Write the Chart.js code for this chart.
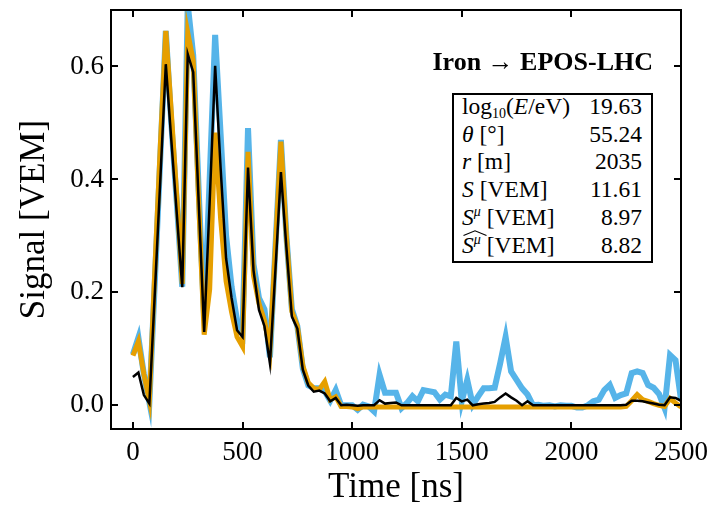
<!DOCTYPE html>
<html>
<head>
<meta charset="utf-8">
<script src="https://cdn.jsdelivr.net/npm/chart.js@4.4.1/dist/chart.umd.min.js"></script>
<style>
  html, body { margin:0; padding:0; background:#fff; }
  #wrap { position:relative; width:725px; height:505px; }
  #c { position:absolute; left:0; top:0; }
  .serif { font-family:"Liberation Serif","DejaVu Serif",serif; color:#000; }
  #title { position:absolute; left:400px; width:253px; top:47px; text-align:right; font-weight:bold; font-size:26px; line-height:30px; white-space:nowrap; }
  #box { position:absolute; left:452px; top:93px; width:197px; height:166px; border:2px solid #000; background:#fff; }
  #box table { border-collapse:collapse; margin-left:8px; margin-top:-2px; font-size:23.5px; width:180px; }
  #box td { padding:0; height:27.7px; line-height:27.7px; white-space:nowrap; }
  #box td.v { text-align:right; }
  sub, sup { font-size:14px; line-height:0; }
  sup { vertical-align:9px; }
  sub { vertical-align:-4px; }
  .hat { position:relative; display:inline-block; line-height:27.7px; }
  .hat svg { position:absolute; left:1px; top:-2px; }
</style>
</head>
<body>
<div id="wrap">
  <canvas id="c" width="725" height="505"></canvas>
  <div id="title" class="serif">Iron → EPOS-LHC</div>
  <div id="box" class="serif">
    <table>
      <tr><td>log<sub>10</sub>(<i>E</i>/eV)</td><td class="v">19.63</td></tr>
      <tr><td><i>θ</i> [°]</td><td class="v">55.24</td></tr>
      <tr><td><i>r</i> [m]</td><td class="v">2035</td></tr>
      <tr><td><i>S</i> [VEM]</td><td class="v">11.61</td></tr>
      <tr><td><i>S</i><sup><i>μ</i></sup> [VEM]</td><td class="v">8.97</td></tr>
      <tr><td><span class="hat"><i>S</i><sup><i>μ</i></sup><svg width="24" height="6" viewBox="0 0 24 6"><polyline points="0.5,5.5 12,0.8 23.5,5.5" fill="none" stroke="#000" stroke-width="1.1"/></svg></span> [VEM]</td><td class="v">8.82</td></tr>
    </table>
  </div>
</div>
<script>
// Time bins [ns]
const timeNs = [];
for (let i = 0; i <= 100; i++) timeNs.push(i * 25);

// Blue series (thick, light blue)
const blueSignal = [
  0.090, 0.120, 0.055, 0.005, 0.220, 0.440, 0.663, 0.500, 0.360, 0.210,
  0.710, 0.620, 0.380, 0.154, 0.400, 0.656, 0.480, 0.300, 0.210, 0.150,
  0.130, 0.491, 0.250, 0.190, 0.170, 0.085, 0.280, 0.470, 0.300, 0.170,
  0.140, 0.065, 0.035, 0.030, 0.030, 0.025, 0.008, 0.027, 0.000, 0.000,
  0.000, -0.008, 0.001, -0.002, -0.011, 0.054, 0.022, 0.022, 0.022, -0.005,
  0.004, 0.016, 0.007, 0.027, 0.025, 0.023, 0.010, 0.019, 0.016, 0.113,
  0.007, 0.045, 0.001, 0.016, 0.030, 0.030, 0.031, 0.074, 0.121, 0.060,
  0.045, 0.030, 0.019, 0.000, 0.001, -0.001, 0.000, -0.002, 0.000, -0.001,
  -0.001, -0.004, -0.004, 0.000, 0.007, 0.010, 0.027, 0.036, 0.013, 0.018,
  0.021, 0.057, 0.060, 0.057, 0.036, 0.031, 0.020, -0.005, 0.089, 0.080,
  0.010
];

// Orange series (thick)
const orangeSignal = [
  0.088, 0.113, 0.055, 0.008, 0.240, 0.460, 0.663, 0.520, 0.370, 0.215,
  0.660, 0.610, 0.360, 0.125, 0.205, 0.483, 0.330, 0.220, 0.165, 0.121,
  0.104, 0.449, 0.230, 0.180, 0.150, 0.098, 0.280, 0.467, 0.300, 0.166,
  0.140, 0.070, 0.040, 0.030, 0.028, 0.042, 0.010, 0.015, -0.002, -0.002,
  -0.003, -0.006, -0.003, -0.003, -0.003, -0.003, -0.003, -0.003, -0.003, -0.003,
  -0.003, -0.003, -0.003, -0.003, -0.003, -0.003, -0.003, -0.003, -0.003, -0.003,
  -0.003, -0.003, -0.003, -0.003, -0.003, -0.003, -0.003, -0.003, -0.003, -0.003,
  -0.003, -0.003, -0.003, -0.003, -0.003, -0.003, -0.003, -0.003, -0.003, -0.003,
  -0.003, -0.003, -0.003, -0.003, -0.003, -0.003, -0.003, -0.003, -0.003, -0.003,
  -0.002, 0.008, 0.019, 0.010, 0.007, 0.003, 0.000, -0.002, 0.012, 0.004,
  -0.003
];

// Black series (thin)
const blackSignal = [
  0.050, 0.058, 0.018, 0.003, 0.200, 0.400, 0.604, 0.470, 0.340, 0.209,
  0.622, 0.590, 0.360, 0.130, 0.360, 0.601, 0.420, 0.260, 0.190, 0.133,
  0.121, 0.421, 0.239, 0.169, 0.140, 0.074, 0.240, 0.413, 0.280, 0.157,
  0.136, 0.063, 0.035, 0.024, 0.026, 0.021, 0.007, 0.013, 0.000, 0.001,
  0.000, -0.001, 0.000, 0.000, 0.000, 0.009, 0.003, 0.004, 0.005, 0.000,
  0.000, 0.000, 0.000, 0.000, 0.000, 0.000, 0.000, 0.000, 0.000, 0.013,
  0.007, 0.010, 0.000, 0.002, 0.003, 0.004, 0.006, 0.014, 0.021, 0.014,
  0.008, 0.000, 0.007, 0.000, 0.000, 0.000, 0.000, 0.000, 0.000, 0.000,
  0.000, 0.000, 0.000, 0.000, 0.000, 0.000, 0.000, 0.000, 0.000, 0.000,
  0.001, 0.008, 0.008, 0.007, 0.005, 0.003, 0.001, 0.000, 0.014, 0.013,
  0.008
];

const xTickValues = [0, 500, 1000, 1500, 2000, 2500];
const yTickValues = [0.0, 0.2, 0.4, 0.6];

const FONT = '"Liberation Serif", "DejaVu Serif", serif';

function pts(arr) { return timeNs.map((t, i) => ({ x: t, y: arr[i] })); }

const framePlugin = {
  id: 'frame',
  afterDraw(chart) {
    const { ctx, chartArea: a, scales } = chart;
    ctx.save();
    ctx.strokeStyle = '#000';
    ctx.lineWidth = 2;
    ctx.strokeRect(a.left, a.top, a.right - a.left, a.bottom - a.top);
    const L = 7;
    ctx.beginPath();
    xTickValues.forEach(v => {
      const px = Math.round(scales.x.getPixelForValue(v));
      ctx.moveTo(px, a.bottom); ctx.lineTo(px, a.bottom - L);
      ctx.moveTo(px, a.top); ctx.lineTo(px, a.top + L);
    });
    yTickValues.forEach(v => {
      const py = Math.round(scales.y.getPixelForValue(v));
      ctx.moveTo(a.left, py); ctx.lineTo(a.left + L, py);
      ctx.moveTo(a.right, py); ctx.lineTo(a.right - L, py);
    });
    ctx.stroke();
    ctx.restore();
  }
};

new Chart(document.getElementById('c'), {
  type: 'line',
  data: {
    datasets: [
      { data: pts(blackSignal), borderColor: '#000000', borderWidth: 2.5, order: 0 },
      { data: pts(orangeSignal), borderColor: '#E69F00', borderWidth: 5, order: 1 },
      { data: pts(blueSignal), borderColor: '#56B4E9', borderWidth: 6, order: 2 }
    ]
  },
  options: {
    responsive: false,
    animation: false,
    devicePixelRatio: 1,
    elements: { point: { radius: 0 }, line: { tension: 0, borderJoinStyle: 'miter', borderCapStyle: 'butt' } },
    layout: { padding: { top: 10, right: 44, left: 0, bottom: 0 } },
    plugins: { legend: { display: false }, tooltip: { enabled: false } },
    scales: {
      x: {
        type: 'linear', min: -100, max: 2500,
        afterBuildTicks(s) { s.ticks = xTickValues.map(v => ({ value: v })); },
        ticks: { color: '#000', font: { family: FONT, size: 27 }, padding: 8, maxRotation: 0, autoSkip: false, callback: v => String(v) },
        grid: { display: false, drawTicks: false },
        border: { display: false },
        title: { display: true, text: 'Time [ns]', color: '#000', font: { family: FONT, size: 35, lineHeight: 1.0 }, padding: { top: 4, bottom: 0 } },
        afterFit(s) { s.height = 76; s.paddingLeft = 0; s.paddingRight = 0; }
      },
      y: {
        min: -0.042, max: 0.7,
        afterBuildTicks(s) { s.ticks = yTickValues.map(v => ({ value: v })); },
        ticks: { color: '#000', font: { family: FONT, size: 27 }, padding: 7, callback: v => Number(v).toFixed(1) },
        grid: { display: false, drawTicks: false },
        border: { display: false },
        title: { display: true, text: 'Signal [VEM]', color: '#000', font: { family: FONT, size: 35 }, padding: { top: 14, bottom: 0 } },
        afterFit(s) { s.width = 111; s.paddingTop = 0; s.paddingBottom = 0; }
      }
    }
  },
  plugins: [framePlugin]
});
</script>
</body>
</html>
